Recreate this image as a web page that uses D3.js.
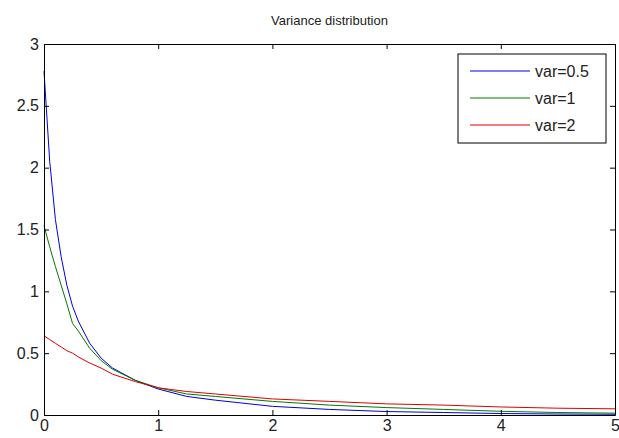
<!DOCTYPE html>
<html>
<head>
<meta charset="utf-8">
<script src="https://cdn.jsdelivr.net/npm/d3@7"></script>
<style>
  body { margin: 0; background: #fff; }
  text { font-family: "Liberation Sans", Arial, sans-serif; fill: #222; }
</style>
</head>
<body>
<div id="chart"></div>
<script>
// sample points shared by all three curves
const xs = [0, 0.05, 0.1, 0.15, 0.2, 0.25, 0.3, 0.4, 0.5, 0.6, 0.8, 1, 1.25, 1.5, 2, 2.5, 3, 3.5, 4, 4.5, 5];

const var05 = [2.78, 2.05, 1.58, 1.28, 1.05, 0.88, 0.76, 0.58, 0.46, 0.38, 0.28, 0.21, 0.15, 0.12, 0.07, 0.045, 0.028, 0.02, 0.012, 0.008, 0.006];
const var1  = [1.53, 1.36, 1.2, 1.05, 0.9, 0.74, 0.68, 0.54, 0.44, 0.37, 0.28, 0.22, 0.17, 0.15, 0.11, 0.08, 0.06, 0.045, 0.03, 0.02, 0.015];
const var2  = [0.64, 0.61, 0.58, 0.55, 0.52, 0.5, 0.47, 0.42, 0.38, 0.33, 0.27, 0.22, 0.19, 0.17, 0.13, 0.11, 0.09, 0.08, 0.065, 0.055, 0.05];

const seriesNames = ["var=0.5", "var=1", "var=2"];
const xTicks = [0, 1, 2, 3, 4, 5];
const yTicks = [0, 0.5, 1, 1.5, 2, 2.5, 3];

const colors = ["#0000e0", "#007a00", "#e00000"];

const width = 619, height = 438;
const margin = {top: 44, right: 4, bottom: 23, left: 44};

const svg = d3.select("#chart").append("svg")
    .attr("width", width)
    .attr("height", height);

const x = d3.scaleLinear().domain([0, 5]).range([margin.left, width - margin.right]);
const y = d3.scaleLinear().domain([0, 3]).range([height - margin.bottom, margin.top]);

// curves
const line = d3.line()
    .x((d, i) => x(xs[i]))
    .y(d => y(d));

[var05, var1, var2].forEach((s, i) => {
    svg.append("path")
        .datum(s)
        .attr("fill", "none")
        .attr("stroke", colors[i])
        .attr("stroke-width", 1)
        .attr("d", line);
});

// axes, ticks pointing inward like matlab
const tickLen = 5;
const fs = 16;

svg.append("g")
    .attr("transform", `translate(0,${y(0)})`)
    .call(d3.axisBottom(x).tickValues(xTicks).tickSizeInner(-tickLen).tickSizeOuter(0).tickPadding(5).tickFormat(d3.format("")))
    .call(g => g.selectAll("text").attr("font-size", fs).attr("fill", "#222"));

svg.append("g")
    .attr("transform", `translate(0,${y(3)})`)
    .call(d3.axisTop(x).tickValues(xTicks).tickSizeInner(-tickLen).tickSizeOuter(0).tickFormat(""));

svg.append("g")
    .attr("transform", `translate(${x(0)},0)`)
    .call(d3.axisLeft(y).tickValues(yTicks).tickSizeInner(-tickLen).tickSizeOuter(0).tickPadding(5).tickFormat(d3.format("")))
    .call(g => g.selectAll("text").attr("font-size", fs).attr("fill", "#222"));

svg.append("g")
    .attr("transform", `translate(${x(5)},0)`)
    .call(d3.axisRight(y).tickValues(yTicks).tickSizeInner(-tickLen).tickSizeOuter(0).tickFormat(""));

svg.selectAll(".domain").attr("stroke", "#000");
svg.selectAll(".tick line").attr("stroke", "#000");

// title
svg.append("text")
    .attr("x", (x(0) + x(5)) / 2)
    .attr("y", 25)
    .attr("text-anchor", "middle")
    .attr("font-size", 13)
    .text("Variance distribution");

// legend
const lg = svg.append("g").attr("transform", "translate(458,54)");
lg.append("rect")
    .attr("width", 148)
    .attr("height", 89)
    .attr("fill", "#fff")
    .attr("stroke", "#000");

seriesNames.forEach((name, i) => {
    const ly = 17 + i * 27;
    lg.append("line")
        .attr("x1", 12).attr("x2", 72)
        .attr("y1", ly).attr("y2", ly)
        .attr("stroke", colors[i]);
    lg.append("text")
        .attr("x", 77)
        .attr("y", ly + 6)
        .attr("font-size", 16)
        .text(name);
});
</script>
</body>
</html>
